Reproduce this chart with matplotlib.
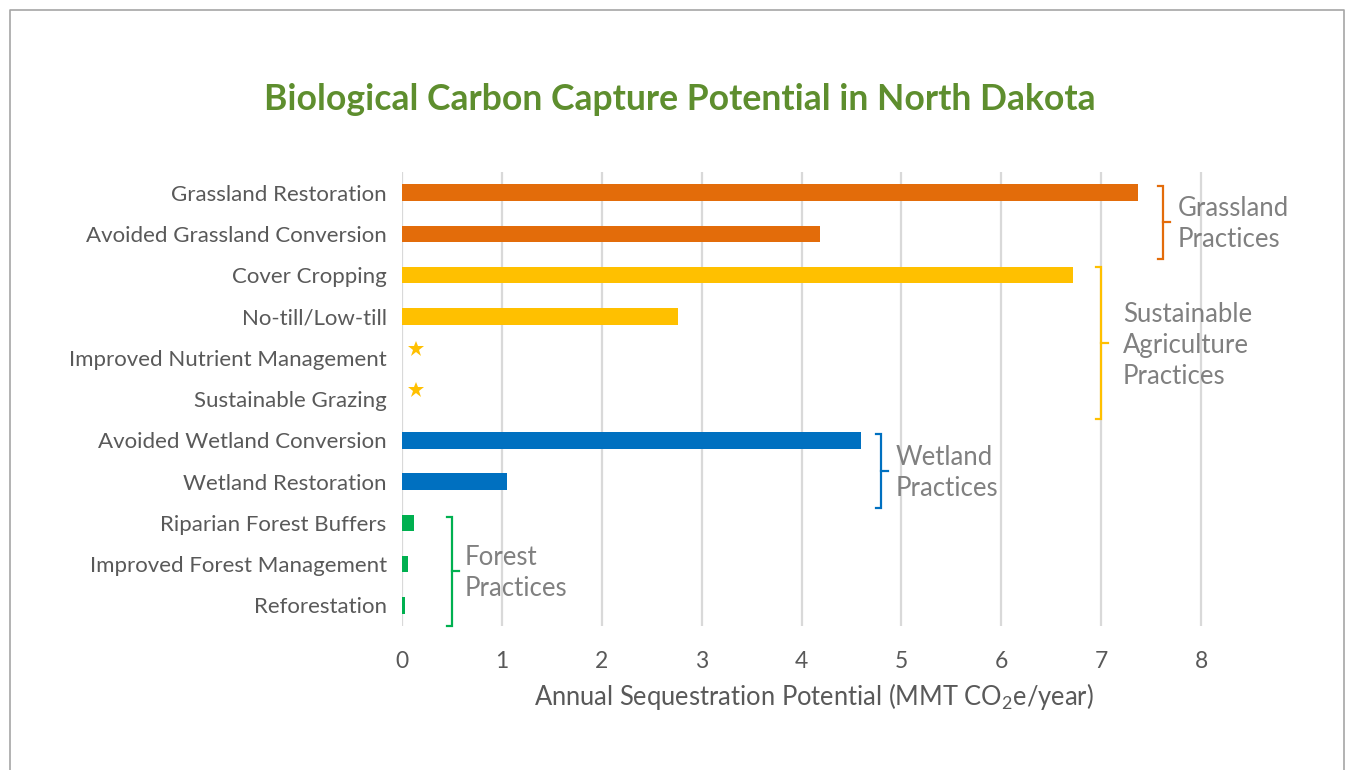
import matplotlib
matplotlib.use("Agg")
import matplotlib.pyplot as plt
from matplotlib.lines import Line2D

# data
categories = ["Grassland Restoration", "Avoided Grassland Conversion", "Cover Cropping",
              "No-till/Low-till", "Improved Nutrient Management", "Sustainable Grazing",
              "Avoided Wetland Conversion", "Wetland Restoration", "Riparian Forest Buffers",
              "Improved Forest Management", "Reforestation"]
values = [7.37, 4.19, 6.72, 2.76, 0.0, 0.0, 4.60, 1.05, 0.12, 0.06, 0.03]
starred = [False, False, False, False, True, True, False, False, False, False, False]
groups = ["Grassland", "Grassland", "Agriculture", "Agriculture", "Agriculture", "Agriculture",
          "Wetland", "Wetland", "Forest", "Forest", "Forest"]
xticks = [0, 1, 2, 3, 4, 5, 6, 7, 8]

colors = {"Grassland": "#E36C0A", "Agriculture": "#FFC000",
          "Wetland": "#0070C0", "Forest": "#00B050"}

# group brackets: name, label, x, y_top, y_bottom, text gap
brackets = [
    ("Grassland", "Grassland\nPractices", 7.62, -0.17, 1.60, 0.15),
    ("Agriculture", "Sustainable\nAgriculture\nPractices", 7.00, 1.81, 5.49, 0.22),
    ("Wetland", "Wetland\nPractices", 4.80, 5.85, 7.65, 0.14),
    ("Forest", "Forest\nPractices", 0.50, 7.86, 10.49, 0.13),
]

plt.rcParams["font.family"] = ["Lato", "DejaVu Sans"]
plt.rcParams["mathtext.fontset"] = "custom"
plt.rcParams["mathtext.rm"] = "Lato"
plt.rcParams["mathtext.default"] = "regular"

fig = plt.figure(figsize=(13.53, 7.7), dpi=100)
ax = fig.add_axes([402 / 1353, 1 - 626 / 770, 801 / 1353, 454 / 770])

ypos = list(range(len(categories)))
ax.barh(ypos, values, height=0.4, color=[colors[g] for g in groups], zorder=3)
for y, s, g in zip(ypos, starred, groups):
    if s:
        ax.plot(0.14, y - 0.22, marker="*", markersize=12, color=colors[g],
                markeredgewidth=0, zorder=4)

ax.set_xlim(0, 8.02)
ax.set_ylim(10.5, -0.5)
ax.set_xticks(xticks)
ax.set_yticks(ypos)
ax.set_yticklabels(categories)
ax.tick_params(axis="y", length=0, pad=11, labelsize=16, labelcolor="#595959")
ax.tick_params(axis="x", length=0, pad=18, labelsize=16.5, labelcolor="#595959")
ax.grid(axis="x", color="#D9D9D9", linewidth=1.6, zorder=0)
for sp in ax.spines.values():
    sp.set_visible(False)

for g, label, x, y0, y1, gap in brackets:
    c = colors[g]
    d = 0.05
    ax.plot([x - d, x, x, x - d], [y0, y0, y1, y1], color=c, lw=1.6,
            solid_joinstyle="miter", clip_on=False, zorder=5)
    ym = (y0 + y1) / 2
    ax.plot([x, x + 0.07], [ym, ym], color=c, lw=1.6, clip_on=False, zorder=5)
    ax.text(x + gap, ym + 0.05, label, ha="left", va="center", fontsize=18.5,
            color="#808080", linespacing=1.3, zorder=6)

fig.text(680 / 1353, 1 - 100 / 770, "Biological Carbon Capture Potential in North Dakota",
         ha="center", va="center", fontsize=25.6, fontweight="bold", color="#5E8E2E")
fig.text(814 / 1353, 1 - 697 / 770, "Annual Sequestration Potential (MMT CO$_2$e/year)",
         ha="center", va="center", fontsize=18.4, color="#595959")

# outer frame (open at the bottom)
fx0, fx1, fy = 9.5 / 1353, 1344 / 1353, 1 - 9.5 / 770
fig.add_artist(Line2D([fx0, fx0, fx1, fx1], [0, fy, fy, 0], color="#A6A6A6", lw=1.2))

fig.savefig("out.png", dpi=100)
